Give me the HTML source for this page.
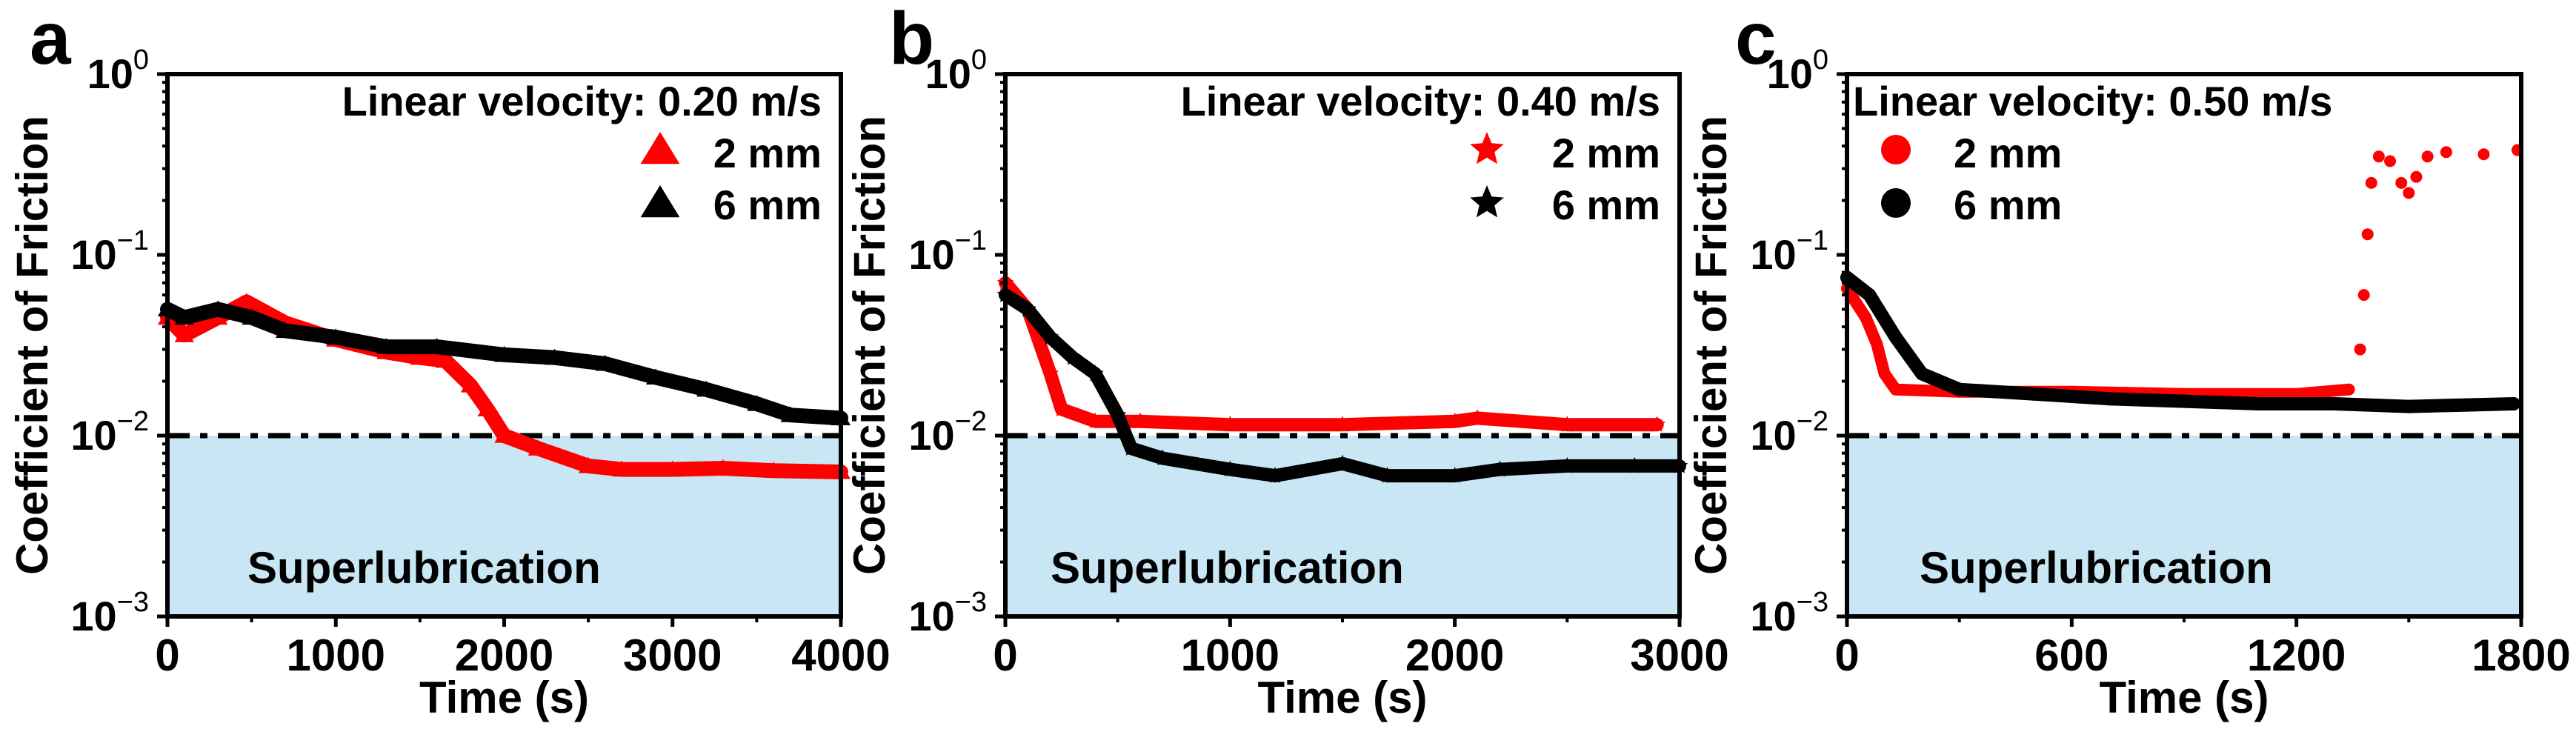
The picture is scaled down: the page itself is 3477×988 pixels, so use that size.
<!DOCTYPE html>
<html><head><meta charset="utf-8"><style>
html,body{margin:0;padding:0;background:#fff}
svg{display:block}
text{font-family:"Liberation Sans",Arial,sans-serif;font-weight:bold;fill:#000}
</style></head><body>
<svg id="fig" width="3477" height="988" viewBox="0 0 3477 988" xmlns="http://www.w3.org/2000/svg"></svg>
<script>
// Panel a data (time s, COF)
const aRedT=[0,100,300,470,700,1000,1300,1500,1650,1800,1900,2000,2200,2500,2700,3000,3300,3600,4000];
const aRedV=[0.045,0.036,0.045,0.055,0.042,0.034,0.029,0.027,0.026,0.019,0.014,0.010,0.0085,0.0068,0.0065,0.0065,0.0066,0.0064,0.0063];
const aBlkT=[0,100,300,500,700,1000,1300,1600,2000,2300,2600,2900,3200,3500,3700,4000];
const aBlkV=[0.05,0.045,0.05,0.045,0.038,0.035,0.031,0.031,0.028,0.027,0.025,0.021,0.018,0.015,0.013,0.0125];
// Panel b data
const bRedT=[0,100,200,250,400,600,1000,1500,2000,2100,2500,2900];
const bRedV=[0.07,0.05,0.022,0.014,0.012,0.012,0.0115,0.0115,0.012,0.0125,0.0115,0.0115];
const bBlkT=[0,100,200,300,400,500,560,700,1000,1200,1500,1700,2000,2200,2500,2800,3000];
const bBlkV=[0.06,0.05,0.035,0.027,0.022,0.013,0.0085,0.0075,0.0065,0.006,0.007,0.006,0.006,0.0065,0.0068,0.0068,0.0068];
// Panel c data
const cRedT=[0,50,80,100,130,300,600,900,1200,1340,1370,1380,1390,1400,1420,1450,1480,1500,1520,1550,1600,1700,1790];
const cRedV=[0.065,0.045,0.032,0.022,0.018,0.0175,0.0175,0.017,0.017,0.018,0.03,0.06,0.13,0.25,0.35,0.33,0.25,0.22,0.27,0.35,0.37,0.36,0.38];
const cBlkT=[0,60,130,200,300,500,700,900,1100,1300,1500,1780];
const cBlkV=[0.075,0.06,0.035,0.022,0.018,0.017,0.016,0.0155,0.015,0.015,0.0145,0.015];
// ticks
const aXTicks=[0,1000,2000,3000,4000];
const bXTicks=[0,1000,2000,3000];
const cXTicks=[0,600,1200,1800];
const yDecades=[0,-1,-2,-3];

const NS="http://www.w3.org/2000/svg";
const svg=document.getElementById('fig');
function mk(tag,attrs,parent){const e=document.createElementNS(NS,tag);for(const k in attrs)e.setAttribute(k,attrs[k]);(parent||svg).appendChild(e);return e;}
const TOP=100,BOT=832;
function yScale(v){return BOT-(Math.log10(v)+3)/3*(BOT-TOP);}

function marker(g,shape,x,y,color,s){
  if(shape==='tri'){return mk('polygon',{points:`${x},${y-s} ${x-s*1.1},${y+s*0.8} ${x+s*1.1},${y+s*0.8}`,fill:color},g);}
  if(shape==='star'){let p=[];for(let i=0;i<10;i++){const r=i%2?s*0.45:s;const a=-Math.PI/2+i*Math.PI/5;p.push((x+r*Math.cos(a)).toFixed(1)+','+(y+r*Math.sin(a)).toFixed(1));}return mk('polygon',{points:p.join(' '),fill:color},g);}
  return mk('circle',{cx:x,cy:y,r:s,fill:color},g);
}

function panel(cfg){
  const {id,L,R,xmax,ticks,letter,letterX,titleX,series,shape,vel,legRight,legMarkX,legTextX,superX}=cfg;
  const xs=t=>L+t/xmax*(R-L);
  const g=mk('g',{});
  
  
  const fill=mk('rect',{x:L,y:yScale(0.01),width:R-L,height:BOT-yScale(0.01),fill:'#c8e6f3'},g);
  
  
  const st=mk('text',{x:superX,y:787,'font-size':60},g);st.textContent='Superlubrication';
  
  
  const th=mk('line',{x1:L,x2:R,y1:yScale(0.01),y2:yScale(0.01),stroke:'#000','stroke-width':7,'stroke-dasharray':'30 14 10 14'},g);
  
  
  series.forEach(s=>{
    const sg=mk('g',{},g);
    
    
    const n=s.bandEnd||s.t.length;
    const pts=s.t.slice(0,n).map((t,i)=>xs(t).toFixed(1)+','+yScale(s.v[i]).toFixed(1)).join(' ');
    if(s.band) mk('polyline',{points:pts,fill:'none',stroke:s.color,'stroke-width':s.band,'stroke-linejoin':'round','stroke-linecap':'round'},sg);
    s.t.forEach((t,i)=>{const m=marker(sg,shape,xs(t),yScale(s.v[i]),s.color,s.ms);
      
      });
  });
  const fr=mk('rect',{x:L,y:TOP,width:R-L,height:BOT-TOP,fill:'none',stroke:'#000','stroke-width':6},g);
  
  
  ticks.forEach((t,i)=>{
    const x=xs(t);
    mk('line',{x1:x,x2:x,y1:BOT,y2:BOT+14,stroke:'#000','stroke-width':5},g);
    if(i<ticks.length-1){const xm=xs((t+ticks[i+1])/2);mk('line',{x1:xm,x2:xm,y1:BOT,y2:BOT+8,stroke:'#000','stroke-width':4},g);}
    const tl=mk('text',{x:x,y:905,'font-size':60,'text-anchor':'middle'},g);tl.textContent=t;
    
    
  });
  const xt=mk('text',{x:(L+R)/2,y:962,'font-size':60,'text-anchor':'middle'},g);xt.textContent='Time (s)';
  
  
  yDecades.forEach(d=>{
    const y=yScale(Math.pow(10,d));
    mk('line',{x1:L-14,x2:L,y1:y,y2:y,stroke:'#000','stroke-width':5},g);
    if(d>-3){for(let k=2;k<10;k++){const ym=yScale(k*Math.pow(10,d-1));mk('line',{x1:L-7,x2:L,y1:ym,y2:ym,stroke:'#000','stroke-width':4},g);}}
    const yl=mk('text',{x:L-25,y:y+19,'font-size':56,'text-anchor':'end'},g);
    
    
    const t1=mk('tspan',{},yl);t1.textContent='10';
    const t2=mk('tspan',{dy:-26,'font-size':38,'font-weight':'normal'},yl);t2.textContent=(d<0?'\u2212':'')+Math.abs(d);
  });
  const yt=mk('text',{x:titleX,y:(TOP+BOT)/2,'font-size':60,'text-anchor':'middle',transform:`rotate(-90 ${titleX} ${(TOP+BOT)/2})`},g);
  yt.textContent='Coefficient of Friction';
  
  
  const lt=mk('text',{x:letterX,y:86,'font-size':100},g);lt.textContent=letter;
  
  
  const lg=mk('g',{},g);
  
  
  const anchor=legRight?'end':'start';
  const vx=legRight?R-26:L+8;
  const vt=mk('text',{x:vx,y:156,'font-size':56,'text-anchor':anchor},lg);vt.textContent='Linear velocity: '+vel+' m/s';
  
  
  [['2 mm','#ff0000',202,226],['6 mm','#000',274,296]].forEach(e=>{
    const m=marker(lg,shape,legMarkX,e[2],e[1],shape==='circ'?20:24);
    
    
    const tx=mk('text',{x:legRight?R-26:legTextX,y:e[3],'font-size':56,'text-anchor':anchor},lg);tx.textContent=e[0];
    
    
  });
}

panel({id:'a',L:226,R:1135,xmax:4000,ticks:aXTicks,letter:'a',letterX:40,titleX:64,shape:'tri',vel:'0.20',legRight:true,legMarkX:891,superX:334,
  series:[{name:'2mm',t:aRedT,v:aRedV,color:'#ff0000',band:20,ms:12},{name:'6mm',t:aBlkT,v:aBlkV,color:'#000',band:20,ms:12}]});
panel({id:'b',L:1357,R:2267,xmax:3000,ticks:bXTicks,letter:'b',letterX:1200,titleX:1194,shape:'star',vel:'0.40',legRight:true,legMarkX:2007,superX:1418,
  series:[{name:'2mm',t:bRedT,v:bRedV,color:'#ff0000',band:18,ms:12},{name:'6mm',t:bBlkT,v:bBlkV,color:'#000',band:18,ms:12}]});
panel({id:'c',L:2493,R:3403,xmax:1800,ticks:cXTicks,letter:'c',letterX:2342,titleX:2330,shape:'circ',vel:'0.50',legRight:false,legMarkX:2559,legTextX:2637,superX:2591,
  series:[{name:'2mm',t:cRedT,v:cRedV,color:'#ff0000',band:16,bandEnd:10,ms:8},{name:'6mm',t:cBlkT,v:cBlkV,color:'#000',band:18,ms:9}]});
</script>
</body></html>
